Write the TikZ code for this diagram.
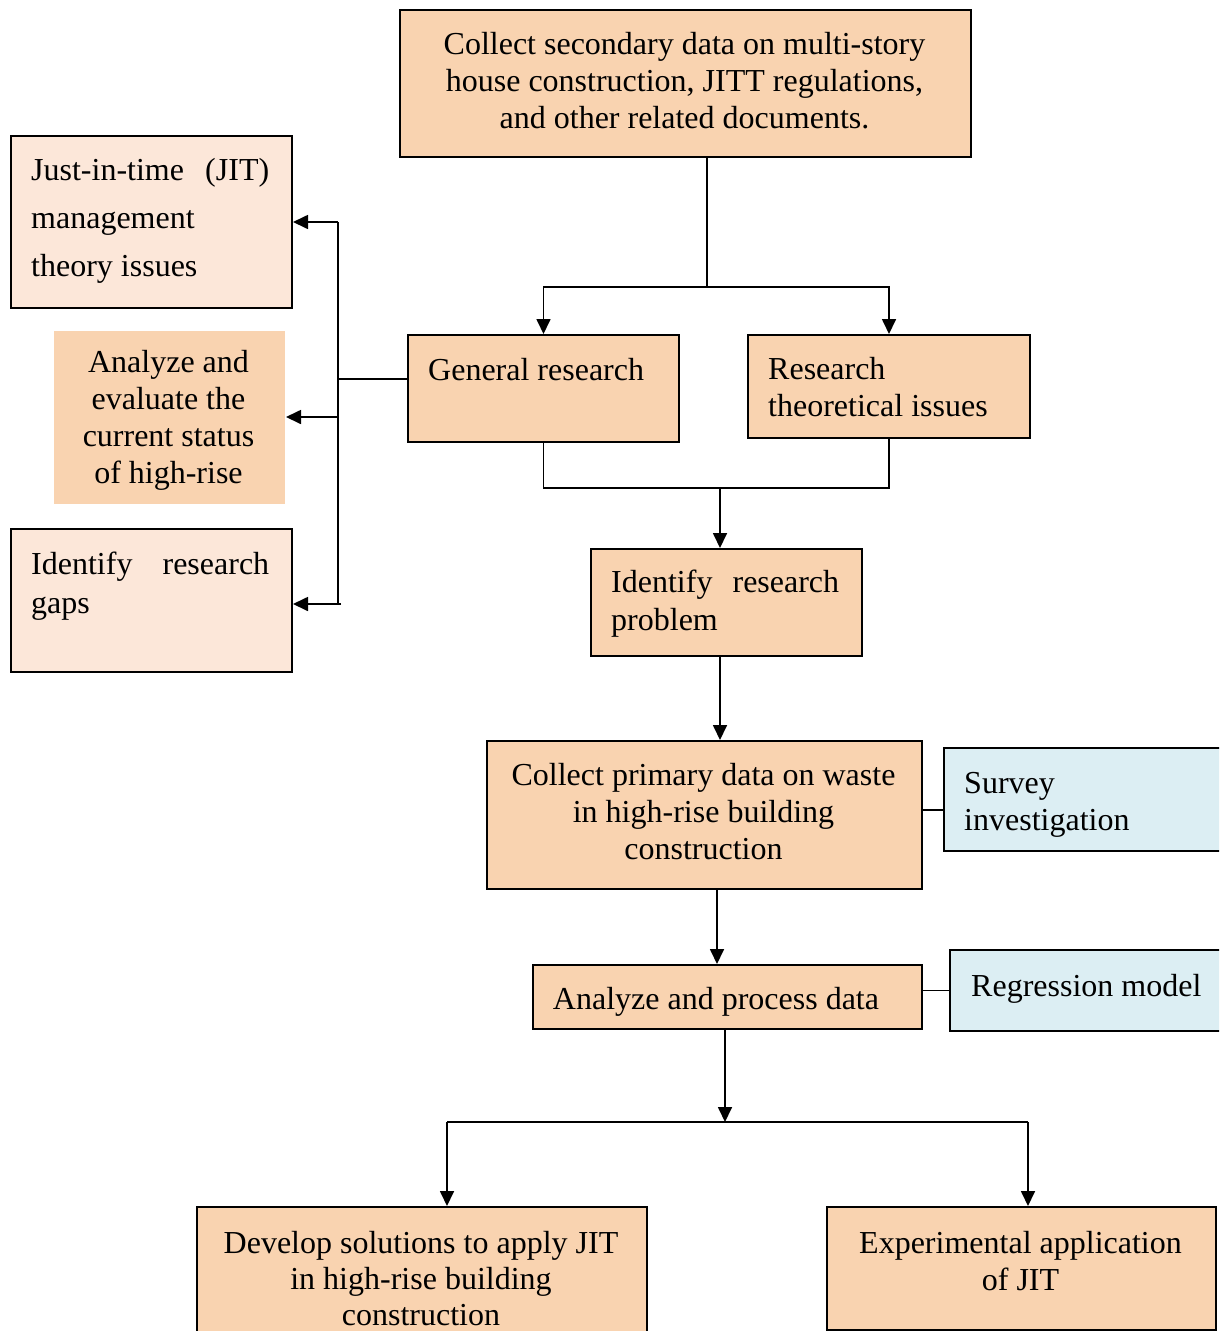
\documentclass[tikz,border=0pt]{standalone}
\usepackage{fontspec}
\setmainfont{Liberation Serif}
\usetikzlibrary{arrows.meta}
\definecolor{peach}{HTML}{F9D3B0}
\definecolor{pale}{HTML}{FCE7D9}
\definecolor{ice}{HTML}{DCEEF3}
\begin{document}
\begin{tikzpicture}[x=1pt,y=-1pt,
  box/.style={draw=black, line width=2pt, fill=peach, anchor=north west, inner sep=0pt},
  palebox/.style={box, fill=pale},
  icebox/.style={box, fill=ice},
  plainbox/.style={box, draw=none},
  txt/.style={inner sep=0pt, font=\fontsize{32}{37}\selectfont},
  ctxt/.style={txt, anchor=north, align=center},
  ltxt/.style={txt, anchor=north west, align=flush left},
  link/.style={line width=1.7pt},
  arr/.style={link, -{Triangle[length=15pt,width=14pt]}}
]
\clip (0,0) rectangle (1219,1331);

% boxes
\node[box, minimum width=571, minimum height=147] (top) at (399,9) {};
\node[palebox, minimum width=281, minimum height=172] (jit) at (10,135) {};
\node[plainbox, minimum width=231, minimum height=173] (ana) at (53,330) {};
\node[palebox, minimum width=281, minimum height=143] (gaps) at (10,528) {};
\node[box, minimum width=271, minimum height=107] (gen) at (407,334) {};
\node[box, minimum width=282, minimum height=103] (res) at (747,334) {};
\node[box, minimum width=271, minimum height=107] (prob) at (590,548) {};
\node[box, minimum width=435, minimum height=148] (prim) at (486,740) {};
\node[icebox, minimum width=290, minimum height=103] (surv) at (943,747) {};
\node[box, minimum width=389, minimum height=64] (proc) at (532,964) {};
\node[icebox, minimum width=290, minimum height=81] (reg) at (949,949) {};
\node[box, minimum width=450, minimum height=140] (dev) at (196,1206) {};
\node[box, minimum width=389, minimum height=123] (exp) at (826,1206) {};

% texts
\node[ctxt] (top-t) at (684.5,28) {\strut Collect secondary data on multi-story\\house construction, JITT regulations,\\and other related documents.};
\node[ltxt, text width=238, font=\fontsize{32}{48}\selectfont] (jit-t) at (31,147) {\strut Just-in-time\hfill(JIT)\\management\\theory issues};
\node[ctxt] (ana-t) at (168.5,346) {\strut Analyze and\\evaluate the\\current status\\of high-rise};
\node[ltxt, text width=238, font=\fontsize{32}{39}\selectfont] (gaps-t) at (31,546.5) {\strut Identify\hfill research\\gaps};
\node[ltxt] (gen-t) at (428,354) {\strut General research};
\node[ltxt] (res-t) at (768,353) {\strut Research\\theoretical issues};
\node[ltxt, text width=228, font=\fontsize{32}{38}\selectfont] (prob-t) at (611,566) {\strut Identify\hfill research\\problem};
\node[ctxt] (prim-t) at (703.5,759) {\strut Collect primary data on waste\\in high-rise building\\construction};
\node[ltxt] (surv-t) at (964,767) {\strut Survey\\investigation};
\node[ctxt] (proc-t) at (716,983) {\strut Analyze and process data};
\node[ltxt] (reg-t) at (971,970) {\strut Regression model};
\node[ctxt, font=\fontsize{32}{36}\selectfont] (dev-t) at (421,1228) {\strut Develop solutions to apply JIT\\in high-rise building\\construction};
\node[ctxt] (exp-t) at (1020.5,1227) {\strut Experimental application\\of JIT};

% split from the top box
\coordinate (s1) at (707,287);
\draw[link] (s1 |- top.south) -- (s1);
\draw[arr] (s1) -| (gen.north);
\draw[arr] (s1) -| (res.north);

% side bus to the left boxes
\coordinate (bus) at (338,379);
\coordinate (busT) at (338,222);
\coordinate (busM) at (338,417);
\coordinate (busB) at (338,604);
\draw[link] (gen.west |- bus) -- (bus);
\draw[link] (busT) -- ([yshift=1pt]busB);
\draw[arr] (busT) -- (busT -| jit.east);
\draw[arr] (busM) -- (busM -| ana.east);
\draw[arr] ([xshift=3pt]busB) -- (busB -| gaps.east);

% merge into the research problem
\coordinate (m1) at (720,488);
\draw[link] (gen.south) -- (gen.south |- m1) -- (res.south |- m1) -- (res.south);
\draw[arr] (m1) -- (m1 |- prob.north);
\draw[arr] (m1 |- prob.south) -- (m1 |- prim.north);

\coordinate (m3) at (717,900);
\draw[arr] (m3 |- prim.south) -- (m3 |- proc.north);

% side methods
\coordinate (sv) at (932,810);
\draw[link] (sv -| prim.east) -- (sv -| surv.west);
\draw[link] (reg.west -| proc.east) -- (reg.west);

% final split
\coordinate (b1) at (725,1122);
\coordinate (bL) at (447,1122);
\coordinate (bR) at (1028,1122);
\draw[arr] (b1 |- proc.south) -- (b1);
\draw[link] (bL) -- (bR);
\draw[arr] (bL) -- (bL |- dev.north);
\draw[arr] (bR) -- (bR |- exp.north);
\end{tikzpicture}
\end{document}
